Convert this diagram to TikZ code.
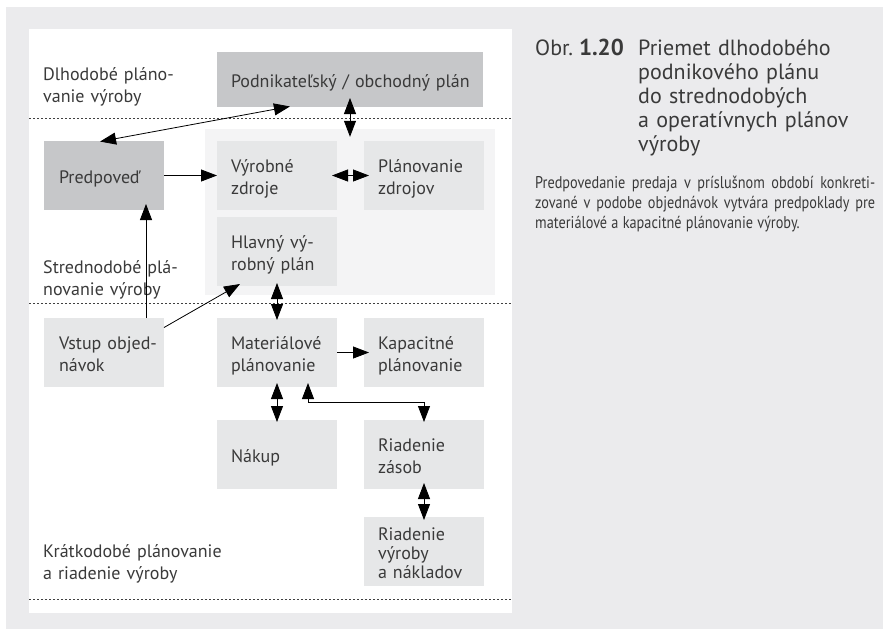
\documentclass[tikz,border=0pt]{standalone}
\usepackage{fontspec}
\setmainfont{PT Sans}
\newfontfamily\condfont[FakeStretch=0.84]{PT Sans}
\usetikzlibrary{arrows.meta}
\definecolor{pagebg}{HTML}{EBEBED}
\definecolor{darkfill}{HTML}{C6C7C9}
\definecolor{lightfill}{HTML}{E6E7E8}
\definecolor{panelfill}{HTML}{F4F4F5}
\definecolor{ink}{HTML}{3A3A3A}
\newcommand{\boxfont}{\fontsize{18}{22}\selectfont}
\newcommand{\boxfonttight}{\fontsize{18}{19}\selectfont}
\newcommand{\bodyline}[1]{\makebox[340pt][s]{#1}}

\begin{document}
\begin{tikzpicture}[x=1pt,y=-1pt,
  blk/.style={minimum width=120pt, minimum height=69pt, inner sep=0pt, outer sep=0pt, fill=lightfill},
  darkblk/.style={blk, fill=darkfill},
  txt/.style={anchor=west, inner sep=0pt, outer sep=0pt, text width=260pt, align=left,
              text=ink, font=\boxfont, text height=15pt, text depth=0pt},
  txttwo/.style={txt, text depth=22pt},
  txtthree/.style={txt, font=\boxfonttight, text depth=38pt},
  lbl/.style={anchor=base west, inner sep=0pt, text width=200pt, align=left, text=ink, font=\boxfont},
  captxt/.style={inner sep=0pt, text=ink, font=\fontsize{22}{24}\selectfont},
  sep/.style={draw=black!75, line width=0.8pt, dash pattern=on 2pt off 2pt},
  tip/.tip={Triangle[length=16pt,width=12pt]},
  arr/.style={-tip, line width=0.8pt},
  darr/.style={tip-tip, line width=0.8pt}
]
\useasboundingbox (0,0) rectangle (883,630);
\fill[pagebg] (6,7) rectangle (883,629);
\fill[white] (29,29) rectangle (512,613);

% period separators
\draw[sep] (29,118) -- (512,118);
\draw[sep] (29,303) -- (512,303);
\draw[sep] (29,599) -- (512,599);

% period labels
\node[lbl] (lLong) at (43,80) {Dlhodobé pláno-\\vanie výroby};
\node[lbl] (lMid) at (43,273) {Strednodobé plá-\\novanie výroby};
\node[lbl] (lShort) at (43,557) {Krátkodobé plánovanie\\a riadenie výroby};

% mid-term panel
\node[fill=panelfill, minimum width=290pt, minimum height=166pt, inner sep=0pt] (panel) at (350,212) {};

% blocks
\node[darkblk, minimum width=266pt, minimum height=55pt] (podnik) at (350,79.5) {};
\node[darkblk] (predpoved) at (104,175.5) {};
\node[blk] (vyrobne) at (277,175.5) {};
\node[blk] (planzdroj) at (424,175.5) {};
\node[blk] (hlavny) at (277,251.5) {};
\node[blk] (vstup) at (104,352.5) {};
\node[blk] (material) at (277,352.5) {};
\node[blk] (kapacit) at (424,352.5) {};
\node[blk] (nakup) at (277,454.5) {};
\node[blk] (zasoby) at (424,454.5) {};
\node[blk] (riadvyr) at (424,551.5) {};

% block texts
\node[txt] (podnik-t) at ([xshift=14pt]podnik.west) {Podnikateľský / obchodný plán};
\node[txt] (predpoved-t) at ([xshift=15pt]predpoved.west) {Predpoveď};
\node[txttwo] (vyrobne-t) at ([xshift=14pt]vyrobne.west) {Výrobné\\zdroje};
\node[txttwo] (planzdroj-t) at ([xshift=14pt]planzdroj.west) {Plánovanie\\zdrojov};
\node[txttwo] (hlavny-t) at ([xshift=14pt]hlavny.west) {Hlavný vý-\\robný plán};
\node[txttwo] (vstup-t) at ([xshift=15pt]vstup.west) {Vstup objed-\\návok};
\node[txttwo] (material-t) at ([xshift=14pt]material.west) {Materiálové\\plánovanie};
\node[txttwo] (kapacit-t) at ([xshift=14pt]kapacit.west) {Kapacitné\\plánovanie};
\node[txt] (nakup-t) at ([xshift=14pt]nakup.west) {Nákup};
\node[txttwo] (zasoby-t) at ([xshift=14pt]zasoby.west) {Riadenie\\zásob};
\node[txtthree] (riadvyr-t) at ([xshift=14pt]riadvyr.west) {Riadenie\\výroby\\a nákladov};

% connectors
\draw[darr, shorten <=-3pt, shorten >=-3pt] ([xshift=-1pt]predpoved.north) -- ([xshift=-63pt]podnik.south);
\draw[darr, shorten <=-9pt] (podnik.south) -- ([yshift=-8pt]panel.north);
\draw[arr] (predpoved.east) -- (vyrobne.west);
\draw[darr, shorten <=-5pt, shorten >=-5pt] (vyrobne.east) -- (planzdroj.west);
\draw[arr, shorten >=-6pt] ([xshift=42pt]vstup.north) -- ([xshift=42pt]predpoved.south);
\draw[arr] ([yshift=25pt]vstup.east) -- ([xshift=-37pt,yshift=2pt]hlavny.south);
\draw[darr, shorten <=-3pt, shorten >=-2pt] (hlavny.south) -- (material.north);
\draw[arr, shorten >=-5pt] (material.east) -- (kapacit.west);
\draw[darr, shorten <=-4pt, shorten >=-2pt] (material.south) -- (nakup.north);
\draw[darr, shorten <=-4pt, shorten >=-2pt] ([xshift=31pt]material.south) -- ++(0,15) -| (zasoby.north);
\draw[darr, shorten <=-6pt, shorten >=-3pt] (zasoby.south) -- (riadvyr.north);

% caption
\node[captxt, anchor=base west] (capobr) at (535,55) {Obr.};
\node[captxt, anchor=base east, font=\fontsize{23}{24}\selectfont\bfseries] (capnum) at (624,55) {1.20};
\node[captxt, anchor=base west, text width=240pt, align=left] (captitle) at (638,55)
  {Priemet dlhodobého\\podnikového plánu\\do strednodobých\\a operatívnych plánov\\výroby};
\node[anchor=base west, inner sep=0pt, text width=340pt, align=left, text=ink, font=\condfont\fontsize{17}{20}\selectfont] (capbody) at (535,188)
  {\spaceskip=0.25em plus 0.6em minus 0.05em
   \bodyline{Predpovedanie predaja v príslušnom období konkreti-}\\
   \bodyline{zované v podobe objednávok vytvára predpoklady pre}\\
   materiálové a kapacitné plánovanie výroby.};
\end{tikzpicture}
\end{document}
